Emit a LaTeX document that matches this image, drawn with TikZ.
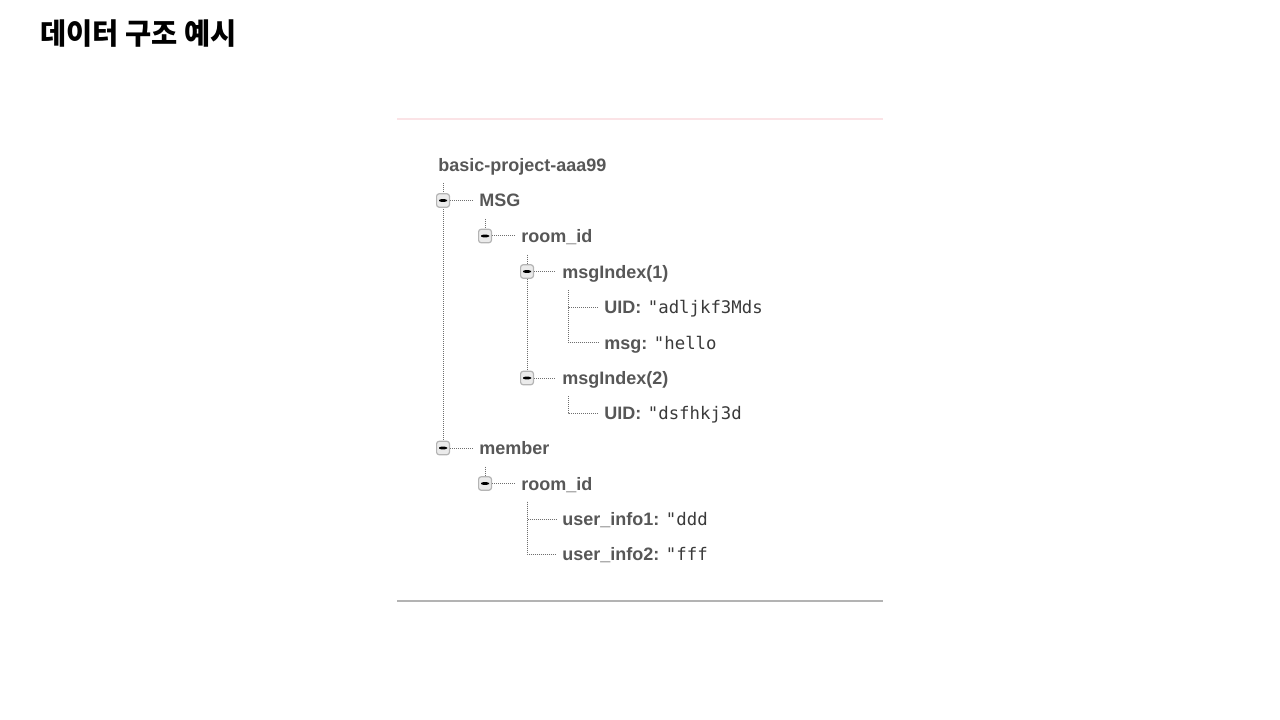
\documentclass[tikz,border=0pt]{standalone}
\usepackage{fontspec}
\setmainfont{Liberation Sans}
\newfontfamily\cjk{Noto Sans CJK KR}
\newfontfamily\monof{DejaVu Sans Mono}
\usetikzlibrary{backgrounds}
\definecolor{labelgray}{HTML}{575757}
\definecolor{valgray}{HTML}{3A3A3A}
\definecolor{dotgray}{HTML}{6E6E6E}
\definecolor{boxgray}{HTML}{B4B4B4}
\definecolor{boxfill}{HTML}{EBEBEB}
\definecolor{pinkline}{HTML}{FBE3E6}
\definecolor{bottomline}{HTML}{B3B3B3}
\newcommand{\kv}[2]{#1:\hspace{5pt}{\monof\mdseries\fontsize{13}{16}\selectfont\textcolor{valgray}{#2}}}
\begin{document}
\begin{tikzpicture}[x=0.75pt,y=-0.75pt,
  lbl/.style={anchor=west, inner sep=0pt, text height=9.75pt, text depth=0pt, text=labelgray, font=\bfseries\fontsize{13.5}{16}\selectfont},
  tbox/.style={draw=boxgray, fill=boxfill, rounded corners=1.8pt, minimum width=9.6pt, minimum height=10pt, inner sep=0pt, line width=0.9pt,
    path picture={\fill[black] ([xshift=-3pt,yshift=-1.1pt]path picture bounding box.center) rectangle ([xshift=3pt,yshift=1.1pt]path picture bounding box.center);}},
  dotline/.style={draw=dotgray, line width=0.75pt, dash pattern=on 0.75pt off 0.75pt},
  titlefont/.style={anchor=west, inner sep=0pt, font=\cjk\bfseries\fontsize{22}{26}\selectfont}
]
\useasboundingbox (0,0) rectangle (1280,720);

% title
\node[titlefont] (title) at (40,34) {\scalebox{0.97}[1]{데이터 구조 예시}};

% frame lines
\draw[pinkline, line width=1.5pt] (397,119) -- (883,119);
\draw[bottomline, line width=1.5pt] (397,601) -- (883,601);

% tree nodes
\node[lbl] (root) at (438,165) {basic-project-aaa99};

\node[tbox] (bMSG) at (443,200.5) {};
\node[lbl] (tMSG) at (479,200.5) {MSG};
\node[tbox] (bRoom1) at (485,236) {};
\node[lbl] (tRoom1) at (521,236) {room\_id};
\node[tbox] (bIdx1) at (527,271.5) {};
\node[lbl] (tIdx1) at (562,271.5) {msgIndex(1)};
\node[lbl] (tUID1) at (604,307) {\kv{UID}{"adljkf3Mds}};
\node[lbl] (tMsg) at (604,342.5) {\kv{msg}{"hello}};
\node[tbox] (bIdx2) at (527,378) {};
\node[lbl] (tIdx2) at (562,378) {msgIndex(2)};
\node[lbl] (tUID2) at (604,413) {\kv{UID}{"dsfhkj3d}};

\node[tbox] (bMem) at (443,448) {};
\node[lbl] (tMem) at (479,448) {member};
\node[tbox] (bRoom2) at (485,483.5) {};
\node[lbl] (tRoom2) at (521,483.5) {room\_id};
\node[lbl] (tUser1) at (562,519) {\kv{user\_info1}{"ddd}};
\node[lbl] (tUser2) at (562,554) {\kv{user\_info2}{"fff}};

% vertical start points
\coordinate (v0) at (443,183);
\coordinate (v1) at (485,219);
\coordinate (v2) at (527,254.5);
\coordinate (v3) at (568,290);
\coordinate (v4) at (568,396);
\coordinate (v5) at (485,466.5);
\coordinate (v6) at (527,501.5);

\begin{pgfonlayer}{background}
  \draw[dotline] (v0) -- (bMem.north);
  \draw[dotline] (v1) -- (bRoom1.north);
  \draw[dotline] (v2) -- (bIdx2.north);
  \draw[dotline] (v5) -- (bRoom2.north);
  \draw[dotline, shorten >=4.5pt] (v3) |- (tUID1.west);
  \draw[dotline, shorten >=4.5pt] (v3) |- (tMsg.west);
  \draw[dotline, shorten >=4.5pt] (v4) |- (tUID2.west);
  \draw[dotline, shorten >=4.5pt] (v6) |- (tUser1.west);
  \draw[dotline, shorten >=4.5pt] (v6) |- (tUser2.west);
  \draw[dotline, shorten >=5pt] (bMSG.east) -- (tMSG.west);
  \draw[dotline, shorten >=5pt] (bRoom1.east) -- (tRoom1.west);
  \draw[dotline, shorten >=5pt] (bIdx1.east) -- (tIdx1.west);
  \draw[dotline, shorten >=5pt] (bIdx2.east) -- (tIdx2.west);
  \draw[dotline, shorten >=5pt] (bMem.east) -- (tMem.west);
  \draw[dotline, shorten >=5pt] (bRoom2.east) -- (tRoom2.west);
\end{pgfonlayer}
\end{tikzpicture}
\end{document}
